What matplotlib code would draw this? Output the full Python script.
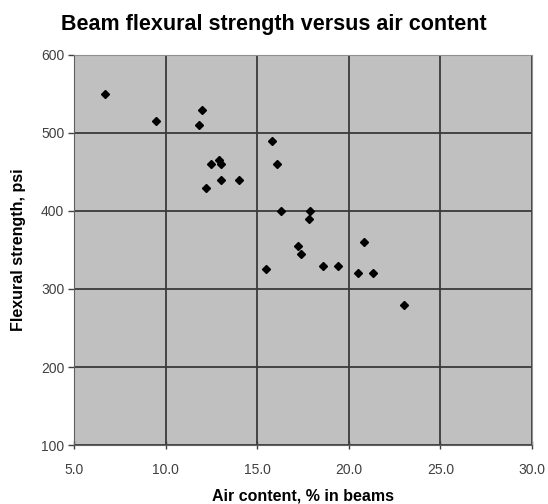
import numpy as np
import matplotlib
matplotlib.use("Agg")
import matplotlib.pyplot as plt

plt.rcParams['font.family'] = ['Liberation Sans', 'DejaVu Sans']

# air content (%) and flexural strength (psi)
air = np.array([6.7, 9.5, 12.0, 11.8, 15.8, 12.9, 12.5, 13.0, 16.1, 13.0, 14.0, 12.2,
                16.3, 17.9, 17.8, 17.2, 17.4, 15.5, 18.6, 19.4, 20.8, 20.5, 21.3, 23.0])
strength = np.array([550, 515, 530, 510, 490, 465, 460, 460, 460, 440, 440, 430,
                     400, 400, 390, 355, 345, 325, 330, 330, 360, 320, 320, 280])

xticks = [5, 10, 15, 20, 25, 30]
yticks = [100, 200, 300, 400, 500, 600]

fig = plt.figure(figsize=(5.48, 5.04), dpi=100)
ax = fig.add_axes([0.135, 0.117, 0.836, 0.774])
ax.set_facecolor('#c0c0c0')

ax.plot(air, strength, 'D', color='black', markersize=4.5, zorder=3)

ax.set_xlim(5, 30)
ax.set_ylim(100, 600)
ax.set_xticks(xticks)
ax.set_xticklabels(['%.1f' % t for t in xticks])
ax.set_yticks(yticks)
ax.grid(True, color='#3a3a3a', linewidth=1.3)
ax.set_axisbelow(True)

for s in ['top', 'right']:
    ax.spines[s].set_color('#909090')
for s in ['left', 'bottom']:
    ax.spines[s].set_color('#606060')
ax.tick_params(axis='both', colors='#404040', labelsize=10, length=4, width=1)
ax.tick_params(axis='x', direction='inout', length=6, pad=10)
ax.tick_params(axis='y', pad=3)

ax.set_xlabel('Air content, % in beams', fontsize=11.5, fontweight='bold', labelpad=8)
ax.set_ylabel('Flexural strength, psi', fontsize=11.5, fontweight='bold', labelpad=11)
fig.text(0.5, 0.94, 'Beam flexural strength versus air content', ha='center', va='baseline',
         fontsize=15.5, fontweight='bold')

fig.savefig('out.png', dpi=100)
